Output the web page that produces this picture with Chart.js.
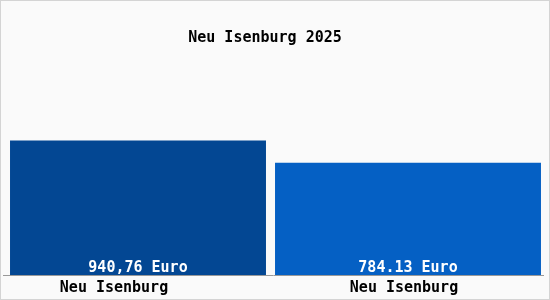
<!DOCTYPE html>
<html>
<head>
<meta charset="utf-8">
<script src="https://cdn.jsdelivr.net/npm/chart.js@4"></script>
<style>
    body { margin: 0; background: #ffffff; }
    #wrap { width: 548px; height: 298px; border: 1px solid #d4d4d4; background: #fafafa; }
</style>
</head>
<body>
<div id="wrap"><canvas id="chart" width="548" height="298"></canvas></div>
<script>
const title = 'Neu Isenburg 2025';
const labels = ['Neu Isenburg', 'Neu Isenburg'];
const values = [940.76, 784.13];
const valueTexts = ['940,76 Euro', '784.13 Euro'];
const colors = ['#034793', '#0560c4'];
const widths = [0.948, 0.985];
const labelShift = [-24, -4];

const font = 'bold 15px "DejaVu Sans Mono"';

// eine Serie pro Balken, damit jeder seine eigene Breite hat
const datasets = values.map((v, i) => ({
    data: values.map((_, j) => (j === i ? v : null)),
    backgroundColor: colors[i],
    barPercentage: widths[i],
    categoryPercentage: 1,
    grouped: false,
}));

const texts = {
    id: 'texts',
    afterDatasetsDraw(chart) {
        const ctx = chart.ctx;
        const area = chart.chartArea;
        const x = chart.scales.x;
        ctx.save();
        ctx.font = font;
        ctx.textAlign = 'center';
        ctx.textBaseline = 'middle';

        ctx.fillStyle = '#000000';
        ctx.fillText(title, (area.left + area.right) / 2 - 8, 37);

        labels.forEach((l, i) => {
            ctx.fillStyle = '#000000';
            ctx.fillText(l, x.getPixelForTick(i) + labelShift[i], area.bottom + 13);
            const bar = chart.getDatasetMeta(i).data[i];
            ctx.fillStyle = '#ffffff';
            ctx.fillText(valueTexts[i], bar.x, area.bottom - 7);
        });
        ctx.restore();
    }
};

new Chart(document.getElementById('chart'), {
    type: 'bar',
    data: { labels: labels, datasets: datasets },
    options: {
        responsive: false,
        animation: { duration: 0 },
        layout: { padding: { left: 2, right: 6, top: 131, bottom: 24 } },
        plugins: {
            legend: { display: false },
            tooltip: { enabled: false },
            title: { display: false }
        },
        scales: {
            x: {
                grid: { display: false, drawTicks: false },
                border: { display: true, color: '#999999', width: 1 },
                ticks: { display: false }
            },
            y: {
                display: false,
                min: 0,
                max: 1000
            }
        }
    },
    plugins: [texts]
});
</script>
</body>
</html>
